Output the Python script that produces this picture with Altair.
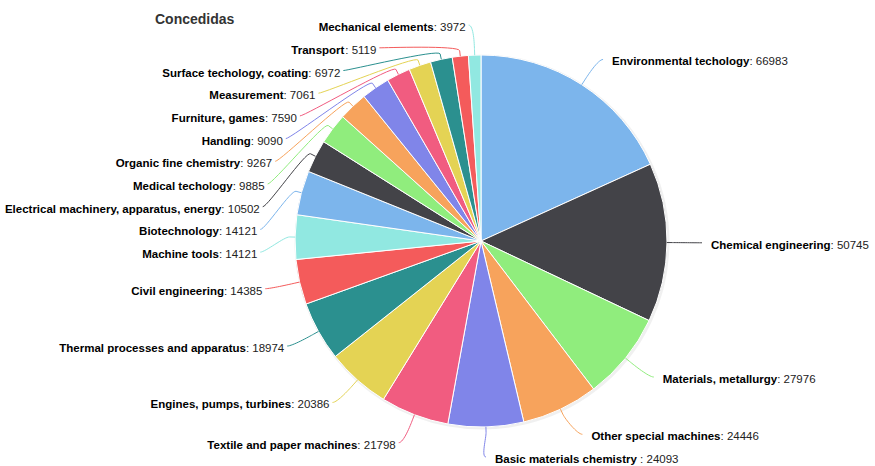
import math
import altair as alt
import pandas as pd

# ---------------- data ----------------
names = [
    "Environmental techology", "Chemical engineering", "Materials, metallurgy",
    "Other special machines", "Basic materials chemistry ", "Textile and paper machines",
    "Engines, pumps, turbines", "Thermal processes and apparatus", "Civil engineering",
    "Machine tools", "Biotechnology", "Electrical machinery, apparatus, energy",
    "Medical techology", "Organic fine chemistry", "Handling", "Furniture, games",
    "Measurement", "Surface techology, coating", "Transport", "Mechanical elements",
]
values = [66983, 50745, 27976, 24446, 24093, 21798, 20386, 18974, 14385, 14121,
          14121, 10502, 9885, 9267, 9090, 7590, 7061, 6972, 5119, 3972]
palette = ["#7cb5ec", "#434348", "#90ed7d", "#f7a35c", "#8085e9",
           "#f15c80", "#e4d354", "#2b908f", "#f45b5b", "#91e8e1"]
title_text = "Concedidas"

# ---------------- layout constants ----------------
W, H = 875, 466
CX, CY, R = 481, 241, 186
DIST, PAD, GAP = 30, 5, 22.7
FONT, FS = "Liberation Sans", 11.5

# Arial / Liberation Sans advance widths (1/1000 em)
BOLD = dict(zip(" ,:", [278, 278, 333]))
BOLD.update(dict(zip("ABCDEFGHIJKLMNOPQRSTUVWXYZ",
                     [722, 722, 722, 722, 667, 611, 778, 722, 278, 556, 722, 611, 833,
                      722, 778, 667, 778, 722, 667, 611, 722, 667, 944, 667, 667, 611])))
BOLD.update(dict(zip("abcdefghijklmnopqrstuvwxyz",
                     [556, 611, 556, 611, 556, 333, 611, 611, 278, 278, 556, 278, 889,
                      611, 611, 611, 611, 389, 556, 333, 611, 556, 778, 556, 556, 500])))
REG = {" ": 278, ":": 278}
REG.update({d: 556 for d in "0123456789"})


def tw(s, table):
    return sum(table.get(c, 556) for c in s) * FS / 1000.0


colors = [palette[i % len(palette)] for i in range(len(names))]
total = float(sum(values))

slices = pd.DataFrame({"name": names, "value": values, "idx": list(range(len(names)))})

# mid angles (clockwise from 12 o'clock)
mids = []
cum = 0.0
for v in values:
    mids.append((cum + v / 2.0) / total * 2 * math.pi)
    cum += v

RL = R + DIST


def distribute(idxs):
    nat = {i: CY - RL * math.cos(mids[i]) for i in idxs}
    order = sorted(idxs, key=lambda i: nat[i])
    pos = [nat[i] for i in order]
    lo, hi = CY - RL, CY + RL
    for k in range(len(pos)):
        pos[k] = max(pos[k], lo if k == 0 else pos[k - 1] + GAP)
    for k in range(len(pos) - 1, -1, -1):
        pos[k] = min(pos[k], hi if k == len(pos) - 1 else pos[k + 1] - GAP)
    return dict(zip(order, pos))


right = [i for i in range(len(names)) if mids[i] <= math.pi]
left = [i for i in range(len(names)) if mids[i] > math.pi]
ypos = {}
ypos.update(distribute(right))
ypos.update(distribute(left))

lab_rows, conn_rows = [], []
for i, nm in enumerate(names):
    is_left = i in left
    y = ypos[i]
    s = max(-1.0, min(1.0, (y - CY) / RL))
    x = CX + (-1 if is_left else 1) * (math.cos(math.asin(s)) * RL + PAD)
    val = str(values[i])
    rest = ": " + val
    if is_left:
        end = x - 3
        lab_rows.append(dict(name=nm, part=nm, px=end - tw(rest, REG), py=y, side="left", kind="b"))
        lab_rows.append(dict(name=nm, part=rest, px=end, py=y, side="left", kind="r"))
    else:
        start = x + 9
        lab_rows.append(dict(name=nm, part=nm, px=start, py=y, side="right", kind="b"))
        lab_rows.append(dict(name=nm, part=rest, px=start + tw(nm, BOLD), py=y, side="right", kind="r"))
    # connector (Highcharts-like soft connector)
    dx, dy = math.sin(mids[i]), -math.cos(mids[i])
    brk = (CX + (R + 5.5) * dx, CY + (R + 5.5) * dy)
    tch = (CX + R * dx, CY + R * dy)
    p0 = (x, y)
    p1 = (x + (5 if is_left else -5), y)
    p2 = (2 * brk[0] - tch[0], 2 * brk[1] - tch[1])
    p3 = brk
    n = 16
    for k in range(n + 1):
        t = k / n
        a, b, c, d = (1 - t) ** 3, 3 * (1 - t) ** 2 * t, 3 * (1 - t) * t ** 2, t ** 3
        conn_rows.append(dict(name=nm, step=k,
                              cx=a * p0[0] + b * p1[0] + c * p2[0] + d * p3[0],
                              cy=a * p0[1] + b * p1[1] + c * p2[1] + d * p3[1]))
    conn_rows.append(dict(name=nm, step=n + 1, cx=tch[0], cy=tch[1]))

labels = pd.DataFrame(lab_rows)
conns = pd.DataFrame(conn_rows)

xs = alt.Scale(domain=[0, W], nice=False, zero=False)
ys = alt.Scale(domain=[0, H], reverse=True, nice=False, zero=False)
cscale = alt.Scale(domain=names, range=colors)

shadow = alt.Chart(slices).mark_arc(radius=R + 1.5, fill="#000000", opacity=0.06).encode(
    theta=alt.Theta("value:Q", stack=True),
    order=alt.Order("idx:Q"),
    x=alt.value(CX + 1), y=alt.value(CY + 1),
)

pie = alt.Chart(slices).mark_arc(radius=R, stroke="#ffffff", strokeWidth=1).encode(
    theta=alt.Theta("value:Q", stack=True),
    order=alt.Order("idx:Q"),
    color=alt.Color("name:N", scale=cscale, legend=None),
    x=alt.value(CX), y=alt.value(CY),
)

connectors = alt.Chart(conns).mark_line(strokeWidth=1, interpolate="linear").encode(
    x=alt.X("cx:Q", scale=xs, axis=None),
    y=alt.Y("cy:Q", scale=ys, axis=None),
    detail="name:N",
    order=alt.Order("step:Q"),
    color=alt.Color("name:N", scale=cscale, legend=None),
)


def text_layer(side, kind):
    d = labels[(labels.side == side) & (labels.kind == kind)]
    return alt.Chart(d).mark_text(
        align="right" if side == "left" else "left", baseline="middle", dy=3,
        font=FONT, fontSize=FS,
        fontWeight="bold" if kind == "b" else "normal",
        color="#000000" if kind == "b" else "#222222",
    ).encode(
        x=alt.X("px:Q", scale=xs, axis=None),
        y=alt.Y("py:Q", scale=ys, axis=None),
        text="part:N",
    )


title = alt.Chart(pd.DataFrame({"t": [title_text]})).mark_text(
    align="left", baseline="middle", font=FONT, fontSize=14, fontWeight="bold", color="#333333"
).encode(x=alt.value(155), y=alt.value(20), text="t:N")

chart = alt.layer(
    shadow, pie, connectors,
    text_layer("left", "b"), text_layer("left", "r"),
    text_layer("right", "b"), text_layer("right", "r"),
    title,
).properties(width=W, height=H, padding=0, autosize="none").configure_view(stroke=None)

chart.save("out.html", embed_options={"renderer": "svg", "actions": False})
